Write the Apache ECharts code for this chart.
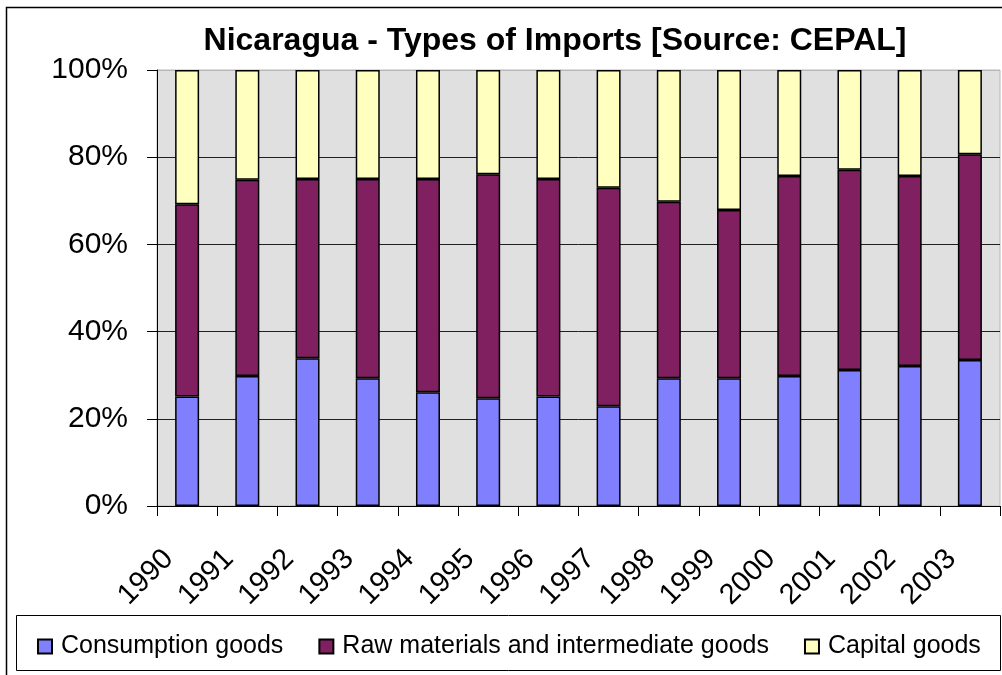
<!DOCTYPE html>
<html>
<head>
<meta charset="utf-8">
<title>Nicaragua - Types of Imports</title>
<script src="https://cdn.jsdelivr.net/npm/echarts@6/dist/echarts.min.js"></script>
<style>
  html, body { margin: 0; padding: 0; background: #fff; }
  #chart { width: 1002px; height: 675px; }
</style>
</head>
<body>
<div id="chart"></div>
<script>
// years on the x axis
var years = ['1990', '1991', '1992', '1993', '1994', '1995', '1996',
             '1997', '1998', '1999', '2000', '2001', '2002', '2003'];
// share of imports (%)
var consumption = [25.1, 29.8, 33.9, 29.3, 26.1, 24.7, 25.1, 22.9, 29.3, 29.3, 29.8, 31.2, 32.1, 33.5];
var rawMaterials = [44.1, 45.0, 41.1, 45.7, 48.9, 51.4, 49.9, 50.1, 40.5, 38.6, 45.9, 45.9, 43.6, 47.2];
var capital = [30.8, 25.2, 25.0, 25.0, 25.0, 23.9, 25.0, 27.0, 30.2, 32.1, 24.3, 22.9, 24.3, 19.3];
var seriesNames = ['Consumption goods', 'Raw materials and intermediate goods', 'Capital goods'];
var yTicks = [0, 20, 40, 60, 80, 100];

var FONT = "'Liberation Sans', Arial, sans-serif";

var myChart = echarts.init(document.getElementById('chart'));

function barSeries(name, data, color) {
    return {
        name: name,
        type: 'bar',
        stack: 'total',
        data: data,
        barWidth: 24,
        itemStyle: { color: color, borderColor: '#000', borderWidth: 1.5 },
        emphasis: { disabled: true }
    };
}

var option = {
    animation: false,
    backgroundColor: '#fff',
    title: {
        text: 'Nicaragua - Types of Imports [Source: CEPAL]',
        left: 550,
        top: 20,
        textAlign: 'center',
        textStyle: { fontFamily: FONT, fontSize: 32, fontWeight: 'bold', color: '#000' }
    },
    graphic: [
        // outer chart border (cut off at right and bottom in the original)
        { type: 'rect', z: -1, shape: { x: 6.5, y: 7.5, width: 1010, height: 700 },
          style: { fill: null, stroke: '#000', lineWidth: 1.5 } },
        // legend frame
        { type: 'rect', z: -1, shape: { x: 16.5, y: 615.5, width: 984, height: 55 },
          style: { fill: '#fff', stroke: '#000', lineWidth: 1 } }
    ],
    legend: {
        data: seriesNames,
        left: 32,
        top: 629,
        itemWidth: 14,
        itemHeight: 14,
        itemGap: 35,
        icon: 'rect',
        selectedMode: false,
        textStyle: { fontFamily: FONT, fontSize: 25, color: '#000', padding: [0, 0, 0, 4] }
    },
    grid: {
        left: 157,
        right: 2,
        top: 70,
        bottom: 169,
        show: true,
        backgroundColor: '#E0E0E0',
        borderColor: '#B8B8B8',
        borderWidth: 1
    },
    xAxis: {
        type: 'category',
        data: years,
        axisLine: { lineStyle: { color: '#000', width: 1 } },
        axisTick: { show: true, length: 10, alignWithLabel: false, lineStyle: { color: '#000' } },
        axisLabel: {
            rotate: 45,
            margin: 30,
            interval: 0,
            padding: [0, 26, 0, 0],
            fontFamily: FONT,
            fontSize: 29,
            color: '#000'
        }
    },
    yAxis: {
        type: 'value',
        min: yTicks[0],
        max: yTicks[yTicks.length - 1],
        interval: 20,
        axisLine: { show: true, lineStyle: { color: '#000', width: 1 } },
        axisTick: { show: true, length: 10, lineStyle: { color: '#000' } },
        axisLabel: {
            formatter: '{value}%',
            margin: 29,
            fontFamily: FONT,
            fontSize: 30,
            color: '#000'
        },
        splitLine: {
            show: true,
            lineStyle: { color: ['#000', '#202020', '#202020', '#202020', '#202020', '#B8B8B8'], width: 1 }
        }
    },
    series: [
        barSeries(seriesNames[0], consumption, '#8080FF'),
        barSeries(seriesNames[1], rawMaterials, '#802060'),
        barSeries(seriesNames[2], capital, '#FFFFC0')
    ]
};

myChart.setOption(option);
</script>
</body>
</html>
